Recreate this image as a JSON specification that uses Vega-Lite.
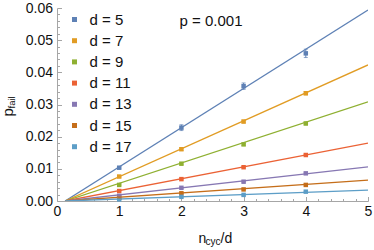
{
  "$schema": "https://vega.github.io/schema/vega-lite/v6.json",
  "width": 311,
  "height": 193,
  "autosize": {"type": "none"},
  "padding": {"left": 57, "top": 8, "right": 6, "bottom": 49},
  "background": "white",
  "config": {
    "view": {"stroke": null},
    "font": "Liberation Sans",
    "axis": {
      "domainColor": "#a6a6a6",
      "tickColor": "#a6a6a6",
      "labelColor": "#111111",
      "titleColor": "#111111",
      "labelFont": "Liberation Sans",
      "titleFont": "Liberation Sans",
      "labelFontSize": 14,
      "titleFontWeight": "normal",
      "grid": false,
      "labelFlush": false
    }
  },
  "datasets": {
    "pts": [
      {"d": "d = 5", "x": 1, "y": 0.01035, "lo": 0.01005, "hi": 0.01065},
      {"d": "d = 5", "x": 2, "y": 0.0228, "lo": 0.0219, "hi": 0.0237},
      {"d": "d = 5", "x": 3, "y": 0.0357, "lo": 0.0347, "hi": 0.0367},
      {"d": "d = 5", "x": 4, "y": 0.0459, "lo": 0.0446, "hi": 0.0472},
      {"d": "d = 7", "x": 1, "y": 0.0076, "lo": 0.0073, "hi": 0.0079},
      {"d": "d = 7", "x": 2, "y": 0.0161, "lo": 0.0157, "hi": 0.0165},
      {"d": "d = 7", "x": 3, "y": 0.0247, "lo": 0.0243, "hi": 0.0251},
      {"d": "d = 7", "x": 4, "y": 0.0335, "lo": 0.033, "hi": 0.034},
      {"d": "d = 9", "x": 1, "y": 0.005, "lo": 0.0048, "hi": 0.0052},
      {"d": "d = 9", "x": 2, "y": 0.0116, "lo": 0.0113, "hi": 0.0119},
      {"d": "d = 9", "x": 3, "y": 0.0176, "lo": 0.0173, "hi": 0.0179},
      {"d": "d = 9", "x": 4, "y": 0.0241, "lo": 0.0237, "hi": 0.0245},
      {"d": "d = 11", "x": 1, "y": 0.0031, "lo": 0.003, "hi": 0.0032},
      {"d": "d = 11", "x": 2, "y": 0.0068, "lo": 0.0066, "hi": 0.007},
      {"d": "d = 11", "x": 3, "y": 0.0105, "lo": 0.0103, "hi": 0.0107},
      {"d": "d = 11", "x": 4, "y": 0.0143, "lo": 0.0141, "hi": 0.0145},
      {"d": "d = 13", "x": 1, "y": 0.0016, "lo": 0.0015, "hi": 0.0017},
      {"d": "d = 13", "x": 2, "y": 0.0041, "lo": 0.004, "hi": 0.0042},
      {"d": "d = 13", "x": 3, "y": 0.006, "lo": 0.0059, "hi": 0.0061},
      {"d": "d = 13", "x": 4, "y": 0.0086, "lo": 0.0084, "hi": 0.0088},
      {"d": "d = 15", "x": 1, "y": 0.001, "lo": 0.0009, "hi": 0.0011},
      {"d": "d = 15", "x": 2, "y": 0.0024, "lo": 0.0023, "hi": 0.0025},
      {"d": "d = 15", "x": 3, "y": 0.0036, "lo": 0.0035, "hi": 0.0037},
      {"d": "d = 15", "x": 4, "y": 0.005, "lo": 0.0049, "hi": 0.0051},
      {"d": "d = 17", "x": 1, "y": 0.0005, "lo": 0.00045, "hi": 0.00055},
      {"d": "d = 17", "x": 2, "y": 0.0013, "lo": 0.0012, "hi": 0.0014},
      {"d": "d = 17", "x": 3, "y": 0.0019, "lo": 0.0018, "hi": 0.002},
      {"d": "d = 17", "x": 4, "y": 0.0029, "lo": 0.0028, "hi": 0.003}
    ],
    "fit": [
      {"d": "d = 5", "x": 0.13, "y": 0},
      {"d": "d = 5", "x": 5, "y": 0.0594},
      {"d": "d = 7", "x": 0.13, "y": 0},
      {"d": "d = 7", "x": 5, "y": 0.0423},
      {"d": "d = 9", "x": 0.13, "y": 0},
      {"d": "d = 9", "x": 5, "y": 0.0308},
      {"d": "d = 11", "x": 0.13, "y": 0},
      {"d": "d = 11", "x": 5, "y": 0.018},
      {"d": "d = 13", "x": 0.13, "y": 0},
      {"d": "d = 13", "x": 5, "y": 0.0106},
      {"d": "d = 15", "x": 0.13, "y": 0},
      {"d": "d = 15", "x": 5, "y": 0.0065},
      {"d": "d = 17", "x": 0.13, "y": 0},
      {"d": "d = 17", "x": 5, "y": 0.0034}
    ],
    "ann": [{"x": 1.97, "y": 0.056, "t": "p = 0.001"}]
  },
  "layer": [
    {
      "data": {"name": "fit"},
      "mark": {"type": "line", "strokeWidth": 1.3, "clip": true},
      "encoding": {
        "x": {
          "field": "x", "type": "quantitative",
          "scale": {"domain": [0, 5], "nice": false},
          "axis": {
            "orient": "bottom",
            "values": [0, 1, 2, 3, 4, 5],
            "format": "d",
            "tickSize": -4.5,
            "labelPadding": 8,
            "title": "n",
            "titleFontSize": 14,
            "titleX": 141,
            "titleY": 41.3,
            "titleAlign": "left",
            "titleBaseline": "alphabetic",
            "titleAngle": 0
          }
        },
        "y": {
          "field": "y", "type": "quantitative",
          "scale": {"domain": [0, 0.06], "nice": false},
          "axis": {
            "orient": "left",
            "values": [0, 0.01, 0.02, 0.03, 0.04, 0.05, 0.06],
            "format": ".2f",
            "tickSize": -4.5,
            "labelPadding": 9,
            "title": "p",
            "titleFontSize": 15,
            "titleAngle": 270,
            "titleX": -45,
            "titleY": 108,
            "titleAlign": "left",
            "titleBaseline": "alphabetic"
          }
        },
        "detail": {"field": "d"},
        "color": {
          "field": "d", "type": "nominal",
          "scale": {
            "domain": ["d = 5", "d = 7", "d = 9", "d = 11", "d = 13", "d = 15", "d = 17"],
            "range": ["#5E81B5", "#E19C24", "#8FB032", "#EB6235", "#8778B3", "#C56E1A", "#5D9EC7"]
          },
          "legend": null
        }
      }
    },
    {
      "data": {"name": "pts"},
      "mark": {"type": "square", "size": 20, "opacity": 1, "filled": true},
      "encoding": {
        "x": {
          "field": "x", "type": "quantitative",
          "scale": {"domain": [0, 5], "nice": false},
          "axis": {
            "orient": "bottom",
            "values": [0.2, 0.4, 0.6, 0.8, 1.2, 1.4, 1.6, 1.8, 2.2, 2.4, 2.6, 2.8, 3.2, 3.4, 3.6, 3.8, 4.2, 4.4, 4.6, 4.8],
            "labels": false,
            "domain": false,
            "tickSize": -2.5,
            "title": "cyc",
            "titleFontSize": 10,
            "titleX": 148,
            "titleY": 43.5,
            "titleAlign": "left",
            "titleBaseline": "alphabetic",
            "titleAngle": 0
          }
        },
        "y": {
          "field": "y", "type": "quantitative",
          "scale": {"domain": [0, 0.06], "nice": false},
          "axis": {
            "orient": "left",
            "values": [0.002, 0.004, 0.006, 0.008, 0.012, 0.014, 0.016, 0.018, 0.022, 0.024, 0.026, 0.028, 0.032, 0.034, 0.036, 0.038, 0.042, 0.044, 0.046, 0.048, 0.052, 0.054, 0.056, 0.058],
            "labels": false,
            "domain": false,
            "tickSize": -2.5,
            "title": "fail",
            "titleFontSize": 9.5,
            "titleAngle": 270,
            "titleX": -43,
            "titleY": 100,
            "titleAlign": "left",
            "titleBaseline": "alphabetic"
          }
        },
        "color": {
          "field": "d", "type": "nominal",
          "scale": {
            "domain": ["d = 5", "d = 7", "d = 9", "d = 11", "d = 13", "d = 15", "d = 17"],
            "range": ["#5E81B5", "#E19C24", "#8FB032", "#EB6235", "#8778B3", "#C56E1A", "#5D9EC7"]
          },
          "legend": {
            "orient": "none",
            "legendX": 10,
            "legendY": 4,
            "title": null,
            "padding": 0,
            "symbolType": "square",
            "symbolSize": 25,
            "symbolStrokeWidth": 0,
            "labelFontSize": 15,
            "labelFont": "Liberation Sans",
            "labelColor": "#111111",
            "labelOffset": 7.5,
            "rowPadding": 5.2
          }
        }
      }
    },
    {
      "data": {"name": "pts"},
      "mark": {"type": "errorbar", "ticks": {"size": 4}, "thickness": 1},
      "encoding": {
        "x": {
          "field": "x", "type": "quantitative",
          "scale": {"domain": [0, 5], "nice": false},
          "axis": {
            "orient": "bottom",
            "values": [],
            "labels": false,
            "domain": false,
            "ticks": false,
            "title": "/d",
            "titleFontSize": 14,
            "titleX": 163,
            "titleY": 41.3,
            "titleAlign": "left",
            "titleBaseline": "alphabetic",
            "titleAngle": 0
          }
        },
        "y": {
          "field": "lo", "type": "quantitative",
          "scale": {"domain": [0, 0.06], "nice": false},
          "axis": null
        },
        "y2": {"field": "hi"},
        "color": {
          "field": "d", "type": "nominal",
          "scale": {
            "domain": ["d = 5", "d = 7", "d = 9", "d = 11", "d = 13", "d = 15", "d = 17"],
            "range": ["#5E81B5", "#E19C24", "#8FB032", "#EB6235", "#8778B3", "#C56E1A", "#5D9EC7"]
          },
          "legend": null
        }
      }
    },
    {
      "data": {"name": "ann"},
      "mark": {"type": "text", "align": "left", "baseline": "middle", "fontSize": 15, "font": "Liberation Sans", "color": "#111111"},
      "encoding": {
        "x": {"field": "x", "type": "quantitative", "scale": {"domain": [0, 5], "nice": false}, "axis": null},
        "y": {"field": "y", "type": "quantitative", "scale": {"domain": [0, 0.06], "nice": false}, "axis": null},
        "text": {"field": "t"}
      }
    }
  ],
  "resolve": {"axis": {"x": "independent", "y": "independent"}, "legend": {"color": "independent"}}
}
